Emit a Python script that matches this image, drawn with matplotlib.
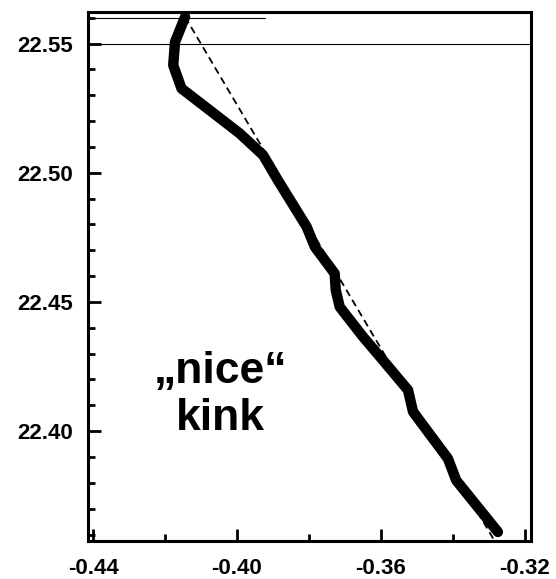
import matplotlib
matplotlib.use("Agg")
import matplotlib.pyplot as plt
from matplotlib.ticker import MultipleLocator

plt.rcParams["font.family"] = ["Liberation Sans", "DejaVu Sans"]
plt.rcParams["font.weight"] = "bold"

# traced profile (x, y)
profile_x = [-0.4144, -0.4172, -0.4177, -0.4154, -0.3992, -0.3927, -0.3886,
             -0.3806, -0.3783, -0.3728, -0.3725, -0.3714, -0.3649, -0.3594,
             -0.3524, -0.3510, -0.3413, -0.3390, -0.3274]
profile_y = [22.5603, 22.5506, 22.5416, 22.5326, 22.5152, 22.5068, 22.4971,
             22.4791, 22.4713, 22.4610, 22.4546, 22.4481, 22.4365, 22.4275,
             22.4159, 22.4075, 22.3894, 22.3810, 22.3610]

# straight reference line through the top point
ref_x = [-0.4144, -0.3283]
ref_y = [22.5603, 22.3575]

# horizontal markers
level_top = 22.56
level_top_end = -0.3922
level_main = 22.55

fig = plt.figure(figsize=(5.56, 5.79), dpi=100)
ax = fig.add_axes([0.1583, 0.0656, 0.7967, 0.9137])

ax.plot(ref_x, ref_y, color="black", lw=1.3, dashes=(4, 2.5), zorder=2)
ax.plot(profile_x, profile_y, color="black", lw=7.5,
        solid_capstyle="round", solid_joinstyle="round", zorder=3)

ax.plot([-0.4414, level_top_end], [level_top, level_top], color="black", lw=0.8)
ax.axhline(level_main, color="black", lw=0.8)

ax.text(-0.4047, 22.414, "\u201enice\u201c\nkink", fontsize=32, fontweight="bold",
        ha="center", va="center", multialignment="center")

ax.set_xlim(-0.4414, -0.3182)
ax.set_ylim(22.3575, 22.5622)

ax.xaxis.set_major_locator(MultipleLocator(0.04))
ax.xaxis.set_minor_locator(MultipleLocator(0.02))
ax.yaxis.set_major_locator(MultipleLocator(0.05))
ax.yaxis.set_minor_locator(MultipleLocator(0.01))
ax.xaxis.set_major_formatter(plt.FormatStrFormatter("%.2f"))
ax.yaxis.set_major_formatter(plt.FormatStrFormatter("%.2f"))

ax.tick_params(axis="both", which="both", direction="in", width=2,
               top=False, right=False, labelsize=16)
ax.tick_params(axis="both", which="major", length=9)
ax.tick_params(axis="both", which="minor", length=5)
ax.tick_params(axis="y", which="major", pad=11)
ax.tick_params(axis="x", which="major", pad=12)

for side in ax.spines.values():
    side.set_linewidth(2.2)

fig.savefig("out.png", dpi=100)
